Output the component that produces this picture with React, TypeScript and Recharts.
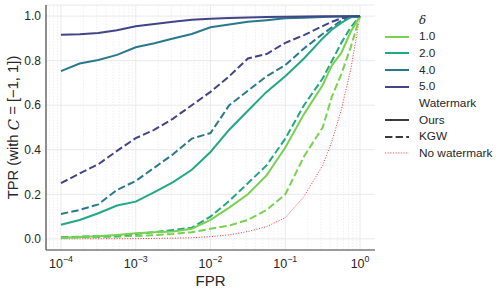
import React from "react";
import { LineChart, Line, XAxis, YAxis, CartesianGrid, ReferenceLine } from "recharts";

const fprValues = [1e-4, 1.78e-4, 3.16e-4, 5.62e-4, 1e-3, 1.78e-3, 3.16e-3, 5.62e-3, 1e-2, 0.0178, 0.0316, 0.0562, 0.1, 0.178, 0.316, 0.422, 0.562, 0.75, 1];

const ours1 = [0.005, 0.008, 0.012, 0.017, 0.025, 0.03, 0.033, 0.045, 0.085, 0.14, 0.2, 0.285, 0.41, 0.56, 0.69, 0.78, 0.835, 0.93, 1.0];
const ours2 = [0.063, 0.085, 0.115, 0.15, 0.167, 0.21, 0.255, 0.31, 0.39, 0.49, 0.575, 0.66, 0.73, 0.81, 0.9, 0.94, 0.97, 0.995, 1.0];
const ours4 = [0.753, 0.787, 0.803, 0.826, 0.86, 0.878, 0.9, 0.92, 0.95, 0.962, 0.975, 0.982, 0.99, 0.993, 0.996, 0.997, 0.998, 0.999, 1.0];
const ours5 = [0.916, 0.919, 0.924, 0.937, 0.955, 0.965, 0.975, 0.984, 0.988, 0.992, 0.994, 0.996, 0.997, 0.998, 0.999, 0.999, 1.0, 1.0, 1.0];

const kgw1 = [0.004, 0.006, 0.008, 0.01, 0.013, 0.017, 0.022, 0.03, 0.045, 0.06, 0.085, 0.13, 0.2, 0.37, 0.5, 0.64, 0.74, 0.86, 1.0];
const kgw2 = [0.007, 0.01, 0.012, 0.015, 0.022, 0.03, 0.04, 0.05, 0.1, 0.17, 0.25, 0.33, 0.45, 0.6, 0.72, 0.8, 0.88, 0.95, 1.0];
const kgw4 = [0.112, 0.13, 0.155, 0.22, 0.26, 0.32, 0.38, 0.45, 0.475, 0.6, 0.665, 0.73, 0.78, 0.855, 0.92, 0.95, 0.98, 0.995, 1.0];
const kgw5 = [0.25, 0.294, 0.335, 0.395, 0.452, 0.49, 0.54, 0.6, 0.66, 0.73, 0.81, 0.83, 0.88, 0.915, 0.955, 0.975, 0.99, 0.997, 1.0];

const noWatermark = [0.0, 0.0002, 0.0004, 0.0007, 0.001, 0.002, 0.003, 0.005, 0.01, 0.018, 0.033, 0.055, 0.095, 0.19, 0.33, 0.44, 0.58, 0.76, 1.0];

const deltaLabels = ["1.0", "2.0", "4.0", "5.0"];
const deltaColors = ["#7ad151", "#22a884", "#2a788e", "#414487"];
const oursSeries = [ours1, ours2, ours4, ours5];
const kgwSeries = [kgw1, kgw2, kgw4, kgw5];

const xMajorTicks = [1e-4, 1e-3, 1e-2, 1e-1, 1];
const xMinorTicks = [
  7e-5, 8e-5, 9e-5,
  2e-4, 3e-4, 4e-4, 5e-4, 6e-4, 7e-4, 8e-4, 9e-4,
  2e-3, 3e-3, 4e-3, 5e-3, 6e-3, 7e-3, 8e-3, 9e-3,
  2e-2, 3e-2, 4e-2, 5e-2, 6e-2, 7e-2, 8e-2, 9e-2,
  0.2, 0.3, 0.4, 0.5, 0.6, 0.7, 0.8, 0.9,
];
const xExponents = ["−4", "−3", "−2", "−1", "0"];
const yTicks = [0, 0.2, 0.4, 0.6, 0.8, 1.0];

const data = fprValues.map((fpr, i) => {
  const row: Record<string, number> = { fpr, none: noWatermark[i] };
  deltaLabels.forEach((d, k) => {
    row["ours" + d] = oursSeries[k][i];
    row["kgw" + d] = kgwSeries[k][i];
  });
  return row;
});

const FONT = "'Liberation Sans', Arial, sans-serif";
const TEXT = "#262626";

const XTick = (props: any) => {
  const { x, y, payload } = props;
  const idx = xMajorTicks.indexOf(payload.value);
  if (idx < 0) return null;
  return (
    <g transform={`translate(${x},${y})`}>
      <text textAnchor="middle" y={18} fill={TEXT} fontSize={12.5} fontFamily={FONT}>
        10
        <tspan dy={-6} fontSize={8.8}>{xExponents[idx]}</tspan>
      </text>
    </g>
  );
};

const YLabel = (props: any) => {
  const vb = props.viewBox || { x: 0, y: 5, width: 46, height: 245 };
  const cx = vb.x + 12.5;
  const cy = vb.y + vb.height / 2;
  return (
    <text
      x={cx}
      y={cy}
      transform={`rotate(-90 ${cx} ${cy})`}
      textAnchor="middle"
      dominantBaseline="central"
      fill={TEXT}
      fontSize={14.8}
      fontFamily={FONT}
    >
      TPR (with <tspan fontStyle="italic" fontFamily="'DejaVu Serif', serif">C</tspan> = [−1, 1])
    </text>
  );
};

const Handle = ({ color, dash, width }: { color: string; dash?: string; width: number }) => (
  <svg width={24} height={6} style={{ display: "block" }}>
    <line x1={0} x2={24} y1={3} y2={3} stroke={color} strokeWidth={width} strokeDasharray={dash} />
  </svg>
);

const legendRows: { label: string; italic?: boolean; handle?: React.ReactNode }[] = [
  { label: "δ", italic: true },
  ...deltaLabels.map((d, k) => ({ label: d, handle: <Handle color={deltaColors[k]} width={2} /> })),
  { label: "Watermark" },
  { label: "Ours", handle: <Handle color="#3a3a3a" width={2} /> },
  { label: "KGW", handle: <Handle color="#3a3a3a" width={2} dash="7.4 3.2" /> },
  { label: "No watermark", handle: <Handle color="#ff3030" width={1} dash="1 1.65" /> },
];

export default function App() {
  return (
    <div style={{ position: "absolute", left: 0, top: 0, width: 502, height: 294, background: "#fff" }}>
      <LineChart
        width={502}
        height={294}
        data={data}
        margin={{ top: 5, right: 127, bottom: 0, left: 0 }}
        style={{ fontFamily: FONT }}
      >
        <CartesianGrid vertical={false} stroke="#e4e4e4" strokeWidth={0.8} />
        {xMinorTicks.map((v) => (
          <ReferenceLine key={"m" + v} x={v} stroke="#e8e8e8" strokeWidth={0.7} strokeDasharray="1.5 1.5" />
        ))}
        {xMajorTicks.map((v) => (
          <ReferenceLine key={"M" + v} x={v} stroke="#e4e4e4" strokeWidth={0.8} />
        ))}
        <XAxis
          dataKey="fpr"
          type="number"
          scale="log"
          domain={[Math.pow(10, -4.2), Math.pow(10, 0.2)]}
          allowDataOverflow
          ticks={xMajorTicks}
          interval={0}
          tick={<XTick />}
          tickLine={false}
          tickSize={0}
          tickMargin={0}
          height={44}
          axisLine={{ stroke: "#444", strokeWidth: 1.2 }}
          label={{ value: "FPR", position: "insideBottom", offset: 8, fill: TEXT, fontSize: 15, fontFamily: FONT }}
        />
        <YAxis
          type="number"
          domain={[-0.05, 1.05]}
          ticks={yTicks}
          allowDataOverflow
          tickFormatter={(v: number) => v.toFixed(1)}
          tick={{ fill: TEXT, fontSize: 12, fontFamily: FONT }}
          tickLine={false}
          tickSize={0}
          tickMargin={5}
          width={46}
          axisLine={{ stroke: "#444", strokeWidth: 1.2 }}
          label={<YLabel />}
        />
        <Line dataKey="none" stroke="#ff3030" strokeWidth={1} strokeDasharray="1 1.65" dot={false} isAnimationActive={false} />
        {deltaLabels.map((d, k) => (
          <Line
            key={"kgw" + d}
            dataKey={"kgw" + d}
            stroke={deltaColors[k]}
            strokeWidth={2}
            strokeDasharray="7.4 3.2"
            dot={false}
            isAnimationActive={false}
          />
        ))}
        {deltaLabels.map((d, k) => (
          <Line
            key={"ours" + d}
            dataKey={"ours" + d}
            stroke={deltaColors[k]}
            strokeWidth={2}
            dot={false}
            isAnimationActive={false}
          />
        ))}
      </LineChart>
      <div
        style={{
          position: "absolute",
          left: 385,
          top: 11.7,
          fontFamily: FONT,
          fontSize: 11.8,
          color: TEXT,
          lineHeight: "16.67px",
        }}
      >
        {legendRows.map((r, i) => (
          <div key={i} style={{ display: "flex", alignItems: "center", height: 16.67 }}>
            <div style={{ width: 24, marginRight: 10 }}>{r.handle}</div>
            <span style={r.italic ? { fontStyle: "italic", fontFamily: "'DejaVu Serif', serif" } : undefined}>{r.label}</span>
          </div>
        ))}
      </div>
    </div>
  );
}
